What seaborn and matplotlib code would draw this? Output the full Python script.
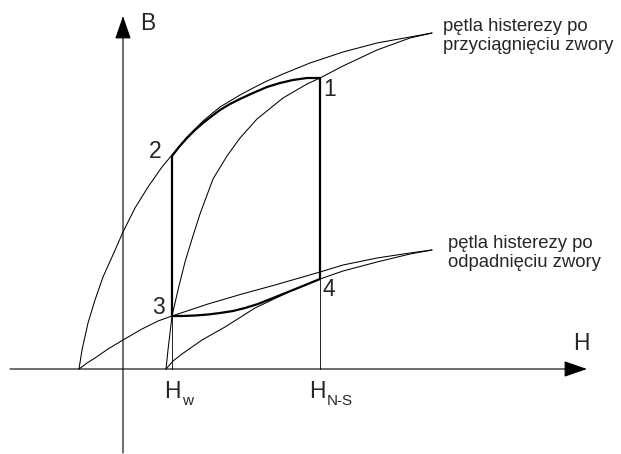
# --- Pętle histerezy: przyciągnięcie / odpadnięcie zwory ---

import seaborn as sns
import matplotlib.pyplot as plt

# ========= 1) DATA (H, B, origin at axes crossing) =========
# upper loop (po przyciągnięciu zwory)
loop_up_desc_H = [-44, -41, -35, -28, -20, -11, 0, 12, 25, 39, 49, 64, 80, 97, 117, 132, 144, 160, 187, 220, 254, 287, 309]
loop_up_desc_B = [0, 19, 46, 69, 92, 112, 137, 161, 182, 202, 214, 232, 248, 262, 274, 282, 288, 295, 306, 317, 326, 332, 336]
loop_up_asc_H = [43, 45, 49, 55, 62, 69, 77, 90, 104, 117, 134, 160, 184, 197, 220, 254, 287, 309]
loop_up_asc_B = [0, 19, 53, 79, 107, 130, 155, 190, 213, 231, 250, 271, 285, 291, 303, 319, 331, 336]

# lower loop (po odpadnięciu zwory)
loop_dn_desc_H = [-44, -36, -28, -15, 0, 19, 35, 49, 85, 119, 152, 197, 220, 254, 287, 309]
loop_dn_desc_B = [0, 6, 11, 20, 29, 40, 48, 53, 65, 75, 84, 97, 104, 111, 116, 119]
loop_dn_asc_H = [43, 50, 59, 79, 102, 132, 170, 197, 220, 254, 287, 309]
loop_dn_asc_B = [0, 8, 15, 29, 42, 61, 79, 90, 98, 107, 115, 119]

# working cycle 1 -> 4 -> 3 -> 2 -> 1
path_21_H = [49, 56, 64, 72, 80, 89, 97, 107, 117, 130, 144, 157, 170, 184, 197]
path_21_B = [213, 222, 231, 239, 246, 253, 259, 265, 270, 276, 282, 286, 289, 291, 291]
path_34_H = [49, 60, 72, 85, 97, 110, 122, 135, 150, 170, 197]
path_34_B = [53, 53, 53.5, 54.5, 56, 58, 61, 65, 71, 79, 90]

H_w = 49
H_ns = 197
B_pts = {"1": 291, "2": 213, "3": 53, "4": 90}

# ========= 2) STYLE =========
sns.set_style("white")
plt.rcParams["font.family"] = ["Liberation Sans", "DejaVu Sans"]

fig = plt.figure(figsize=(6.21, 4.54), dpi=100)
ax = fig.add_axes([0, 0, 1, 1])
ax.set_xlim(-123, 498)
ax.set_ylim(-85, 369)
ax.axis("off")

thin = 0.75
thick = 1.6


def curve(h, b, lw):
    sns.lineplot(x=h, y=b, sort=False, estimator=None, color="black",
                 linewidth=lw, ax=ax, legend=False)


# ========= 3) AXES WITH ARROWS =========
arrow = dict(arrowstyle="-|>,head_length=0.58,head_width=0.2", mutation_scale=25,
             color="black", linewidth=0.8, shrinkA=0, shrinkB=0)
ax.annotate("", xy=(464, 0), xytext=(-113, 0), arrowprops=arrow)
ax.annotate("", xy=(0, 353), xytext=(0, -84), arrowprops=arrow)

# ========= 4) LOOPS =========
curve(loop_up_desc_H, loop_up_desc_B, thin)
curve(loop_up_asc_H, loop_up_asc_B, thin)
curve(loop_dn_desc_H, loop_dn_desc_B, thin)
curve(loop_dn_asc_H, loop_dn_asc_B, thin)

# vertical guides down to the H axis
curve([H_w, H_w], [0, B_pts["3"]], 0.6)
curve([H_ns, H_ns], [0, B_pts["4"]], 0.6)

# working cycle (thick)
curve(path_21_H, path_21_B, thick)
curve([H_ns, H_ns], [B_pts["1"], B_pts["4"]], thick)
curve(path_34_H, path_34_B, thick)
curve([H_w, H_w], [B_pts["3"], B_pts["2"]], thick)

# ========= 5) LABELS =========
big = 16.5
ax.text(25, 346, "B", fontsize=big, ha="center", va="center")
ax.text(458, 26, "H", fontsize=big, ha="center", va="center")

ax.text(207, 280, "1", fontsize=big, ha="center", va="center")
ax.text(32, 217, "2", fontsize=big, ha="center", va="center")
ax.text(35, 62, "3", fontsize=big, ha="center", va="center")
ax.text(206, 79, "4", fontsize=big, ha="center", va="center")

ax.text(49.5, -22.5, "H", fontsize=big, ha="center", va="center")
ax.text(59, -32, "w", fontsize=11, ha="left", va="center")
ax.text(194.5, -22.5, "H", fontsize=big, ha="center", va="center")
ax.text(204, -32, "N-S", fontsize=11, ha="left", va="center")

ax.text(320, 333, "pętla histerezy po\nprzyciągnięciu zwory", fontsize=13.3,
        ha="left", va="center", linespacing=1.1)
ax.text(325, 116, "pętla histerezy po\nodpadnięciu zwory", fontsize=13.3,
        ha="left", va="center", linespacing=1.1)

plt.savefig("out.png", dpi=100)
